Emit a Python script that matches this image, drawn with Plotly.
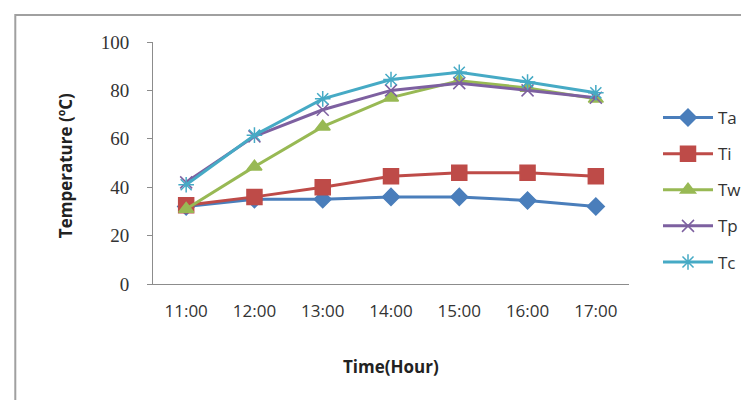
import plotly.graph_objects as go

hours = ["11:00", "12:00", "13:00", "14:00", "15:00", "16:00", "17:00"]
Ta = [32, 35, 35, 36, 36, 34.5, 32]
Ti = [32.5, 36, 40, 44.5, 46, 46, 44.5]
Tw = [31, 48.5, 65, 77, 84, 81, 76.5]
Tp = [42, 61, 72, 80, 83, 80, 77]
Tc = [41, 61.5, 76.5, 84.5, 87.5, 83.5, 79]
y_ticks = [0, 20, 40, 60, 80, 100]

series = [
    ("Ta", Ta, "#4A7EBB", "diamond", 13),
    ("Ti", Ti, "#BE4B48", "square", 15),
    ("Tw", Tw, "#98B954", "triangle-up", 13),
    ("Tp", Tp, "#7D60A0", "x-thin-open", 12),
    ("Tc", Tc, "#46AAC5", "asterisk-open", 13),
]

fig = go.Figure()
for name, vals, color, sym, size in series:
    fig.add_trace(go.Scatter(
        x=hours, y=vals, name=name, mode="lines+markers",
        line=dict(color=color, width=3),
        marker=dict(symbol=sym, size=size, color=color,
                    line=dict(color=color, width=1.5)),
        legendgroup=name,
    ))

W, H = 749, 400
L, R, T, B = 145, 622, 34, 276
pw, ph = R - L, B - T

def px(x):
    return (x - L) / pw

def py(y):
    return (B - y) / ph

fig.update_layout(
    width=W, height=H,
    margin=dict(l=L, r=W - R, t=T, b=H - B),
    paper_bgcolor="white", plot_bgcolor="white",
    showlegend=True,
    legend=dict(
        x=px(650), y=py(92), xanchor="left", yanchor="top",
        font=dict(family="Open Sans", size=17, color="#333333"),
        tracegroupgap=11, itemwidth=50, bgcolor="rgba(0,0,0,0)",
    ),
    xaxis=dict(
        type="category", showgrid=False, showline=True, linecolor="#8c8c8c",
        linewidth=1, ticks="", zeroline=False,
        tickfont=dict(family="Open Sans", size=17, color="#333333"),
        ticklabelstandoff=12,
    ),
    yaxis=dict(
        range=[0, 100], tickvals=y_ticks, showgrid=False, showline=True,
        linecolor="#8c8c8c", linewidth=1, ticks="outside", ticklen=5,
        tickcolor="#8c8c8c", zeroline=False,
        tickfont=dict(family="Liberation Serif", size=19, color="#333333"),
        ticklabelstandoff=14,
    ),
    shapes=[dict(
        type="rect", xref="paper", yref="paper",
        x0=px(7), x1=px(800), y0=py(450), y1=py(7),
        line=dict(color="#a0a0a0", width=2), fillcolor="rgba(0,0,0,0)",
        layer="below",
    )],
    annotations=[
        dict(text="<b>Temperature (ºC)</b>", xref="paper", yref="paper",
             x=px(57), y=py(158), showarrow=False, textangle=-90,
             font=dict(family="Open Sans", size=17, color="#222222"),
             xanchor="center", yanchor="middle"),
        dict(text="<b>Time(Hour)</b>", xref="paper", yref="paper",
             x=px(384), y=py(358), showarrow=False,
             font=dict(family="Open Sans", size=17, color="#222222"),
             xanchor="center", yanchor="middle"),
    ],
)

fig.write_html("out.html")
